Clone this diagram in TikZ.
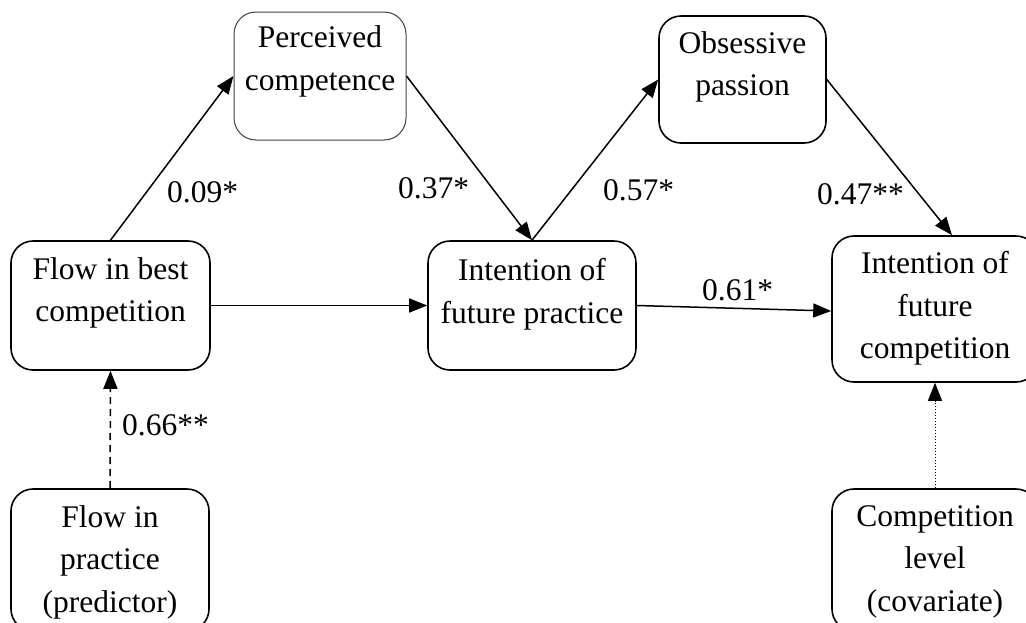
\documentclass[tikz,border=0pt]{standalone}
\usepackage{fontspec}
\setmainfont{Liberation Serif}
\usetikzlibrary{arrows.meta}
\begin{document}
\begin{tikzpicture}[x=1pt,y=-1pt,
  box/.style={draw, line width=1.6pt, rounded corners=22pt, inner sep=0pt},
  txt/.style={anchor=north, align=center, inner sep=0pt, font=\fontsize{31.5}{42.5}\selectfont},
  lbl/.style={anchor=base west, inner sep=0pt, font=\fontsize{31.5}{37}\selectfont},
  arr/.style={-{Triangle[length=18pt,width=14pt]}, line width=1.5pt}]
\useasboundingbox (0,0) rectangle (1026,622);
\clip (0,0) rectangle (1026,622);
% boxes
\node[box, line width=1pt, draw=black!75, minimum width=172pt, minimum height=128pt] (pc) at (320,76) {};
\node[box, minimum width=167pt, minimum height=127pt] (op) at (742.5,79.5) {};
\node[box, minimum width=199pt, minimum height=129pt] (fb) at (110.5,305.5) {};
\node[box, minimum width=208pt, minimum height=129pt] (ip) at (532,305.5) {};
\node[box, minimum width=206pt, minimum height=146pt] (ic) at (935,309) {};
\node[box, minimum width=198pt, minimum height=142pt] (fp) at (110,560) {};
\node[box, minimum width=206pt, minimum height=142pt] (cl) at (935,560) {};
% texts
\node[txt] (pct) at ([yshift=-14pt]pc.north) {Perceived\\competence};
\node[txt] (opt) at ([yshift=-16pt]op.north) {Obsessive\\passion};
\node[txt] (fbt) at ([yshift=-17pt]fb.north) {Flow in best\\competition};
\node[txt] (ipt) at ([yshift=-18pt]ip.north) {Intention of\\future practice};
\node[txt] (ict) at ([yshift=-16pt]ic.north) {Intention of\\future\\competition};
\node[txt] (fpt) at ([yshift=-17pt]fp.north) {Flow in\\practice\\(predictor)};
\node[txt] (clt) at ([yshift=-17pt]cl.north) {Competition\\level\\(covariate)};
% connectors
\draw[arr] (fb.north) -- (pc.west);
\draw[arr] (pc.east) -- (ip.north);
\draw[arr] (ip.north) -- (op.west);
\draw[arr] (op.east) -- ([xshift=17pt]ic.north);
\draw[arr] (fb.east) -- (ip.west);
\draw[arr] (ip.east) -- ([yshift=-2pt]ic.west);
\draw[arr, dash pattern=on 7pt off 5pt] (fp.north) -- (fb.south);
\draw[arr, line width=1pt, dash pattern=on 1.5pt off 1.5pt] (cl.north) -- (ic.south);
% labels
\node[lbl] (l1) at (167,202) {0.09*};
\node[lbl] (l2) at (398,198) {0.37*};
\node[lbl] (l3) at (603,200) {0.57*};
\node[lbl] (l4) at (817,204) {0.47**};
\node[lbl] (l5) at (702,300) {0.61*};
\node[lbl] (l6) at (122,435) {0.66**};
\end{tikzpicture}
\end{document}
